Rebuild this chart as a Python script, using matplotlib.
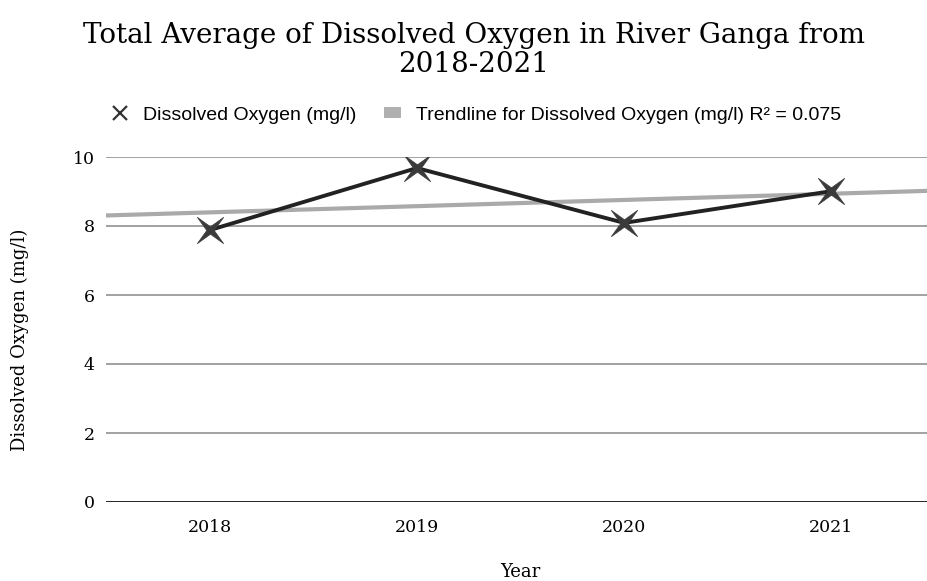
import numpy as np
import matplotlib
matplotlib.use("Agg")
import matplotlib.pyplot as plt
from matplotlib.lines import Line2D
from matplotlib.patches import Patch
from matplotlib.path import Path

# 年ごとの溶存酸素平均値
years = ["2018", "2019", "2020", "2021"]
dissolved_oxygen = [7.88, 9.68, 8.09, 9.01]
r2_text = "0.075"
y_ticks = [0, 2, 4, 6, 8, 10]

serif = "DejaVu Serif"
sans = "Liberation Sans"

# 細い 4 点星のマーカー
ang = np.deg2rad(np.arange(45, 405, 45))
rad = np.array([1.0, 0.2] * 4)
verts = np.column_stack([rad * np.cos(ang), rad * np.sin(ang)])
verts = np.vstack([verts, verts[:1]])
star4 = Path(verts, closed=True)

fig = plt.figure(figsize=(9.28, 5.81), dpi=100)
ax = fig.add_axes([106 / 928, 1 - 502 / 581, 829 / 928, 345 / 581])

x = np.arange(len(years))

# 線形トレンドライン（軸の端から端まで）
coef = np.polyfit(x, dissolved_oxygen, 1)
xt = np.array([-0.5, 3.5])
ax.plot(xt, np.polyval(coef, xt), color="#aaaaaa", lw=3, zorder=2,
        solid_capstyle="butt")

ax.plot(x, dissolved_oxygen, color="#222222", lw=2.8, zorder=3,
        marker=star4, markersize=19, markerfacecolor="#3a3a3a",
        markeredgecolor="#3a3a3a", markeredgewidth=0.5)

ax.set_xlim(-0.5, 3.5)
ax.set_ylim(0, 10)
ax.set_xticks(x)
ax.set_xticklabels(years, fontfamily=serif, fontsize=12.5)
ax.set_yticks(y_ticks)
ax.set_yticklabels([str(v) for v in y_ticks], fontfamily=serif, fontsize=12.5)
ax.tick_params(length=0, pad=8)
ax.tick_params(axis="x", pad=12)

for v in y_ticks[1:]:
    ax.axhline(v, color="#9a9a9a", lw=1.3, zorder=1)
ax.axhline(0, color="#111111", lw=2, zorder=4)
for s in ax.spines.values():
    s.set_visible(False)

ax.set_xlabel("Year", fontfamily=serif, fontsize=13)
ax.xaxis.set_label_coords(0.5, -(572 - 502) / 345, transform=ax.transAxes)
ax.xaxis.label.set_va("center")
ax.set_ylabel("Dissolved Oxygen (mg/l)", fontfamily=serif, fontsize=13)
ax.yaxis.set_label_coords(-(106 - 20) / 829, (502 - 340) / 345)
ax.yaxis.label.set_va("center")

fig.text(474 / 928, 0.962, "Total Average of Dissolved Oxygen in River Ganga from\n2018-2021",
         ha="center", va="top", fontfamily=serif, fontsize=20, linespacing=1.08)

handles = [
    Line2D([], [], ls="none", marker="x", color="#333333", markersize=10,
           markeredgewidth=1.6),
    Patch(facecolor="#b0b0b0", edgecolor="none"),
]
labels = ["Dissolved Oxygen (mg/l)",
          "Trendline for Dissolved Oxygen (mg/l) R\u00b2 = " + r2_text]
fig.legend(handles, labels, loc="center", bbox_to_anchor=(476 / 928, 1 - 115 / 581),
           ncol=2, frameon=False, prop={"family": sans, "size": 14},
           handlelength=0.9, handleheight=0.45, columnspacing=1.4,
           handletextpad=0.75)

fig.savefig("out.png", dpi=100)
